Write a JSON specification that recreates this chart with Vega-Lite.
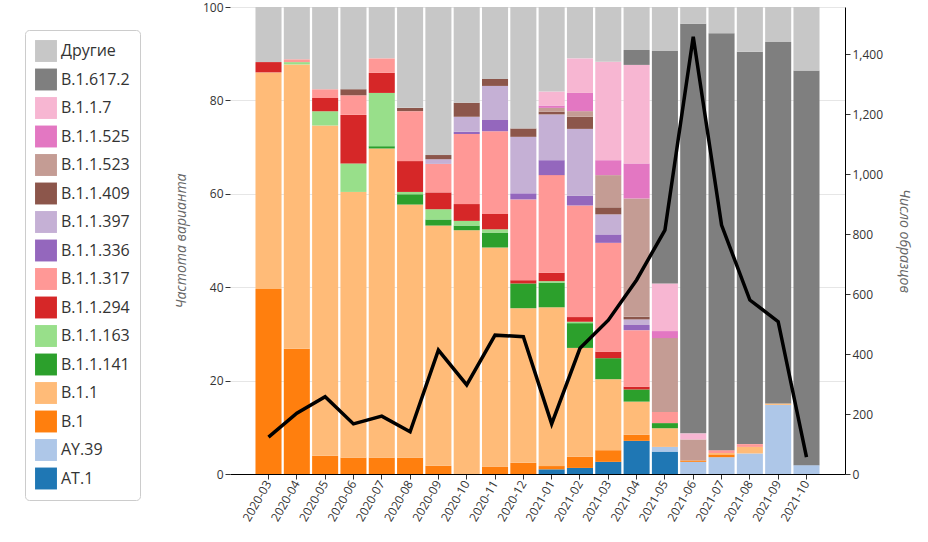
{
  "$schema": "https://vega.github.io/schema/vega-lite/v6.json",
  "width": 615,
  "height": 467,
  "autosize": {"type": "none"},
  "padding": {"left": 230, "top": 7, "right": 83, "bottom": 68},
  "background": "white",
  "config": {"view": {"stroke": null}, "font": "Open Sans", "axis": {"labelColor": "#333", "labelFontSize": 12, "tickColor": "#333"}},
  "datasets": {
    "bars": [
      {"m": "2020-03", "v": "B.1", "p": 39.6}, {"m": "2020-03", "v": "B.1.1", "p": 46.4}, {"m": "2020-03", "v": "B.1.1.294", "p": 2.2}, {"m": "2020-03", "v": "Другие", "p": 11.8},
      {"m": "2020-04", "v": "B.1", "p": 26.8}, {"m": "2020-04", "v": "B.1.1", "p": 60.9}, {"m": "2020-04", "v": "B.1.1.163", "p": 0.5}, {"m": "2020-04", "v": "B.1.1.317", "p": 0.6}, {"m": "2020-04", "v": "Другие", "p": 11.2},
      {"m": "2020-05", "v": "B.1", "p": 3.9}, {"m": "2020-05", "v": "B.1.1", "p": 70.7}, {"m": "2020-05", "v": "B.1.1.163", "p": 3.1}, {"m": "2020-05", "v": "B.1.1.294", "p": 2.8}, {"m": "2020-05", "v": "B.1.1.317", "p": 1.9}, {"m": "2020-05", "v": "Другие", "p": 17.6},
      {"m": "2020-06", "v": "B.1", "p": 3.5}, {"m": "2020-06", "v": "B.1.1", "p": 56.9}, {"m": "2020-06", "v": "B.1.1.163", "p": 6.1}, {"m": "2020-06", "v": "B.1.1.294", "p": 10.4}, {"m": "2020-06", "v": "B.1.1.317", "p": 4.2}, {"m": "2020-06", "v": "B.1.1.409", "p": 1.3}, {"m": "2020-06", "v": "Другие", "p": 17.6},
      {"m": "2020-07", "v": "B.1", "p": 3.5}, {"m": "2020-07", "v": "B.1.1", "p": 66.2}, {"m": "2020-07", "v": "B.1.1.141", "p": 0.5}, {"m": "2020-07", "v": "B.1.1.163", "p": 11.4}, {"m": "2020-07", "v": "B.1.1.294", "p": 4.3}, {"m": "2020-07", "v": "B.1.1.317", "p": 3.1}, {"m": "2020-07", "v": "Другие", "p": 11.0},
      {"m": "2020-08", "v": "B.1", "p": 3.5}, {"m": "2020-08", "v": "B.1.1", "p": 54.2}, {"m": "2020-08", "v": "B.1.1.141", "p": 2.2}, {"m": "2020-08", "v": "B.1.1.163", "p": 0.5}, {"m": "2020-08", "v": "B.1.1.294", "p": 6.6}, {"m": "2020-08", "v": "B.1.1.317", "p": 10.7}, {"m": "2020-08", "v": "B.1.1.409", "p": 0.7}, {"m": "2020-08", "v": "Другие", "p": 21.6},
      {"m": "2020-09", "v": "B.1", "p": 1.8}, {"m": "2020-09", "v": "B.1.1", "p": 51.4}, {"m": "2020-09", "v": "B.1.1.141", "p": 1.3}, {"m": "2020-09", "v": "B.1.1.163", "p": 2.2}, {"m": "2020-09", "v": "B.1.1.294", "p": 3.6}, {"m": "2020-09", "v": "B.1.1.317", "p": 6.1}, {"m": "2020-09", "v": "B.1.1.397", "p": 1.0}, {"m": "2020-09", "v": "B.1.1.409", "p": 0.9}, {"m": "2020-09", "v": "Другие", "p": 31.7},
      {"m": "2020-10", "v": "B.1.1", "p": 52.2}, {"m": "2020-10", "v": "B.1.1.141", "p": 1.0}, {"m": "2020-10", "v": "B.1.1.163", "p": 1.0}, {"m": "2020-10", "v": "B.1.1.294", "p": 3.6}, {"m": "2020-10", "v": "B.1.1.317", "p": 15.0}, {"m": "2020-10", "v": "B.1.1.336", "p": 0.5}, {"m": "2020-10", "v": "B.1.1.397", "p": 3.2}, {"m": "2020-10", "v": "B.1.1.409", "p": 3.0}, {"m": "2020-10", "v": "Другие", "p": 20.5},
      {"m": "2020-11", "v": "B.1", "p": 1.6}, {"m": "2020-11", "v": "B.1.1", "p": 46.9}, {"m": "2020-11", "v": "B.1.1.141", "p": 3.2}, {"m": "2020-11", "v": "B.1.1.163", "p": 0.7}, {"m": "2020-11", "v": "B.1.1.294", "p": 3.3}, {"m": "2020-11", "v": "B.1.1.317", "p": 17.7}, {"m": "2020-11", "v": "B.1.1.336", "p": 2.4}, {"m": "2020-11", "v": "B.1.1.397", "p": 7.3}, {"m": "2020-11", "v": "B.1.1.409", "p": 1.5}, {"m": "2020-11", "v": "Другие", "p": 15.4},
      {"m": "2020-12", "v": "B.1", "p": 2.4}, {"m": "2020-12", "v": "B.1.1", "p": 33.1}, {"m": "2020-12", "v": "B.1.1.141", "p": 5.3}, {"m": "2020-12", "v": "B.1.1.294", "p": 0.7}, {"m": "2020-12", "v": "B.1.1.317", "p": 17.3}, {"m": "2020-12", "v": "B.1.1.336", "p": 1.3}, {"m": "2020-12", "v": "B.1.1.397", "p": 12.1}, {"m": "2020-12", "v": "B.1.1.409", "p": 1.8}, {"m": "2020-12", "v": "Другие", "p": 26.0},
      {"m": "2021-01", "v": "AT.1", "p": 1.0}, {"m": "2021-01", "v": "B.1", "p": 0.7}, {"m": "2021-01", "v": "B.1.1", "p": 34.0}, {"m": "2021-01", "v": "B.1.1.141", "p": 5.3}, {"m": "2021-01", "v": "B.1.1.163", "p": 0.3}, {"m": "2021-01", "v": "B.1.1.294", "p": 1.8}, {"m": "2021-01", "v": "B.1.1.317", "p": 20.9}, {"m": "2021-01", "v": "B.1.1.336", "p": 3.2}, {"m": "2021-01", "v": "B.1.1.397", "p": 9.8}, {"m": "2021-01", "v": "B.1.1.409", "p": 0.6}, {"m": "2021-01", "v": "B.1.1.523", "p": 0.8}, {"m": "2021-01", "v": "B.1.1.525", "p": 0.5}, {"m": "2021-01", "v": "B.1.1.7", "p": 3.0}, {"m": "2021-01", "v": "Другие", "p": 18.1},
      {"m": "2021-02", "v": "AT.1", "p": 1.3}, {"m": "2021-02", "v": "B.1", "p": 2.4}, {"m": "2021-02", "v": "B.1.1", "p": 23.3}, {"m": "2021-02", "v": "B.1.1.141", "p": 5.3}, {"m": "2021-02", "v": "B.1.1.163", "p": 0.3}, {"m": "2021-02", "v": "B.1.1.294", "p": 1.0}, {"m": "2021-02", "v": "B.1.1.317", "p": 23.9}, {"m": "2021-02", "v": "B.1.1.336", "p": 2.1}, {"m": "2021-02", "v": "B.1.1.397", "p": 14.3}, {"m": "2021-02", "v": "B.1.1.409", "p": 2.6}, {"m": "2021-02", "v": "B.1.1.523", "p": 1.2}, {"m": "2021-02", "v": "B.1.1.525", "p": 3.9}, {"m": "2021-02", "v": "B.1.1.7", "p": 7.4}, {"m": "2021-02", "v": "Другие", "p": 11.0},
      {"m": "2021-03", "v": "AT.1", "p": 2.6}, {"m": "2021-03", "v": "B.1", "p": 2.5}, {"m": "2021-03", "v": "B.1.1", "p": 15.2}, {"m": "2021-03", "v": "B.1.1.141", "p": 4.5}, {"m": "2021-03", "v": "B.1.1.294", "p": 1.4}, {"m": "2021-03", "v": "B.1.1.317", "p": 23.3}, {"m": "2021-03", "v": "B.1.1.336", "p": 1.8}, {"m": "2021-03", "v": "B.1.1.397", "p": 4.3}, {"m": "2021-03", "v": "B.1.1.409", "p": 1.5}, {"m": "2021-03", "v": "B.1.1.523", "p": 6.9}, {"m": "2021-03", "v": "B.1.1.525", "p": 3.2}, {"m": "2021-03", "v": "B.1.1.7", "p": 21.1}, {"m": "2021-03", "v": "Другие", "p": 11.7},
      {"m": "2021-04", "v": "AT.1", "p": 7.1}, {"m": "2021-04", "v": "B.1", "p": 1.3}, {"m": "2021-04", "v": "B.1.1", "p": 7.1}, {"m": "2021-04", "v": "B.1.1.141", "p": 2.6}, {"m": "2021-04", "v": "B.1.1.294", "p": 0.6}, {"m": "2021-04", "v": "B.1.1.317", "p": 12.1}, {"m": "2021-04", "v": "B.1.1.336", "p": 1.1}, {"m": "2021-04", "v": "B.1.1.397", "p": 1.2}, {"m": "2021-04", "v": "B.1.1.409", "p": 0.6}, {"m": "2021-04", "v": "B.1.1.523", "p": 25.3}, {"m": "2021-04", "v": "B.1.1.525", "p": 7.5}, {"m": "2021-04", "v": "B.1.1.7", "p": 21.1}, {"m": "2021-04", "v": "B.1.617.2", "p": 3.2}, {"m": "2021-04", "v": "Другие", "p": 9.2},
      {"m": "2021-05", "v": "AT.1", "p": 4.8}, {"m": "2021-05", "v": "AY.39", "p": 1.0}, {"m": "2021-05", "v": "B.1.1", "p": 4.0}, {"m": "2021-05", "v": "B.1.1.141", "p": 1.1}, {"m": "2021-05", "v": "B.1.1.317", "p": 2.4}, {"m": "2021-05", "v": "B.1.1.523", "p": 15.8}, {"m": "2021-05", "v": "B.1.1.525", "p": 1.5}, {"m": "2021-05", "v": "B.1.1.7", "p": 10.2}, {"m": "2021-05", "v": "B.1.617.2", "p": 49.8}, {"m": "2021-05", "v": "Другие", "p": 9.4},
      {"m": "2021-06", "v": "AY.39", "p": 2.6}, {"m": "2021-06", "v": "B.1", "p": 0.3}, {"m": "2021-06", "v": "B.1.1.523", "p": 4.5}, {"m": "2021-06", "v": "B.1.1.7", "p": 1.3}, {"m": "2021-06", "v": "B.1.617.2", "p": 87.7}, {"m": "2021-06", "v": "Другие", "p": 3.6},
      {"m": "2021-07", "v": "AY.39", "p": 3.6}, {"m": "2021-07", "v": "B.1", "p": 0.6}, {"m": "2021-07", "v": "B.1.1", "p": 0.3}, {"m": "2021-07", "v": "B.1.1.317", "p": 0.6}, {"m": "2021-07", "v": "B.1.617.2", "p": 89.3}, {"m": "2021-07", "v": "Другие", "p": 5.6},
      {"m": "2021-08", "v": "AY.39", "p": 4.4}, {"m": "2021-08", "v": "B.1.1", "p": 1.4}, {"m": "2021-08", "v": "B.1.1.317", "p": 0.6}, {"m": "2021-08", "v": "B.1.617.2", "p": 84.0}, {"m": "2021-08", "v": "Другие", "p": 9.6},
      {"m": "2021-09", "v": "AY.39", "p": 14.8}, {"m": "2021-09", "v": "B.1.1", "p": 0.3}, {"m": "2021-09", "v": "B.1.617.2", "p": 77.4}, {"m": "2021-09", "v": "Другие", "p": 7.5},
      {"m": "2021-10", "v": "AY.39", "p": 1.9}, {"m": "2021-10", "v": "B.1.617.2", "p": 84.5}, {"m": "2021-10", "v": "Другие", "p": 13.6}
    ],
    "counts": [
      {"m": "2020-03", "n": 123}, {"m": "2020-04", "n": 203}, {"m": "2020-05", "n": 258}, {"m": "2020-06", "n": 167},
      {"m": "2020-07", "n": 193}, {"m": "2020-08", "n": 141}, {"m": "2020-09", "n": 413}, {"m": "2020-10", "n": 297},
      {"m": "2020-11", "n": 463}, {"m": "2020-12", "n": 458}, {"m": "2021-01", "n": 167}, {"m": "2021-02", "n": 419},
      {"m": "2021-03", "n": 513}, {"m": "2021-04", "n": 647}, {"m": "2021-05", "n": 813}, {"m": "2021-06", "n": 1458},
      {"m": "2021-07", "n": 830}, {"m": "2021-08", "n": 580}, {"m": "2021-09", "n": 508}, {"m": "2021-10", "n": 56}
    ]
  },
  "encoding": {
    "x": {
      "field": "m", "type": "ordinal",
      "scale": {"paddingInner": 0.08, "paddingOuter": 0.9},
      "axis": {"title": null, "labelAngle": -60, "domainColor": "#000", "labelFontSize": 12}
    }
  },
  "layer": [
    {
      "data": {"name": "bars"},
      "transform": [
        {"calculate": "indexof(['AT.1','AY.39','B.1','B.1.1','B.1.1.141','B.1.1.163','B.1.1.294','B.1.1.317','B.1.1.336','B.1.1.397','B.1.1.409','B.1.1.523','B.1.1.525','B.1.1.7','B.1.617.2','Другие'], datum.v)", "as": "rank"}
      ],
      "mark": {"type": "bar"},
      "encoding": {
        "y": {
          "field": "p", "type": "quantitative", "stack": "zero",
          "scale": {"domain": [0, 100], "nice": false},
          "axis": {"title": "Частота варианта", "titleFontStyle": "italic", "titleFontWeight": "normal", "titleColor": "#666", "titleFontSize": 14, "titlePadding": 14, "tickCount": 5, "gridColor": "#e6e6e6", "domain": false}
        },
        "order": {"field": "rank", "type": "quantitative"},
        "color": {
          "field": "v", "type": "nominal",
          "scale": {
            "domain": ["Другие", "B.1.617.2", "B.1.1.7", "B.1.1.525", "B.1.1.523", "B.1.1.409", "B.1.1.397", "B.1.1.336", "B.1.1.317", "B.1.1.294", "B.1.1.163", "B.1.1.141", "B.1.1", "B.1", "AY.39", "AT.1"],
            "range": ["#c7c7c7", "#7f7f7f", "#f7b6d2", "#e377c2", "#c49c94", "#8c564b", "#c5b0d5", "#9467bd", "#ff9896", "#d62728", "#98df8a", "#2ca02c", "#ffbb78", "#ff7f0e", "#aec7e8", "#1f77b4"]
          },
          "legend": {
            "title": null, "orient": "none", "legendX": -205, "legendY": 23,
            "symbolType": "square", "symbolSize": 480, "symbolStrokeWidth": 0,
            "labelFontSize": 16, "labelColor": "#333", "rowPadding": 6.5,
            "padding": 10, "strokeColor": "#ccc", "cornerRadius": 4
          }
        }
      }
    },
    {
      "data": {"name": "counts"},
      "mark": {"type": "line", "color": "black", "strokeWidth": 3.5},
      "encoding": {
        "y": {
          "field": "n", "type": "quantitative",
          "scale": {"domain": [0, 1557], "nice": false},
          "axis": {"orient": "right", "title": "Число образцов", "titleAngle": 90, "titleFontStyle": "italic", "titleFontWeight": "normal", "titleColor": "#666", "titleFontSize": 14, "titlePadding": 14, "values": [0, 200, 400, 600, 800, 1000, 1200, 1400], "grid": false, "domainColor": "#000"}
        }
      }
    }
  ],
  "resolve": {"scale": {"y": "independent", "color": "independent"}}
}
